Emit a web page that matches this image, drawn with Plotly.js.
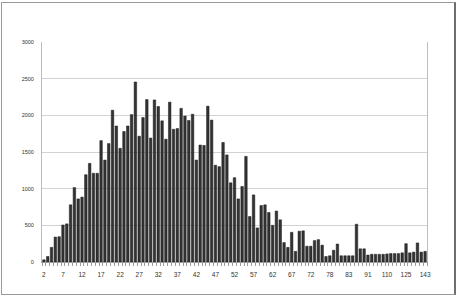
<!DOCTYPE html>
<html>
<head>
<meta charset="utf-8">
<script src="https://cdn.plot.ly/plotly-3.0.1.min.js"></script>
<style>
  html, body { margin: 0; padding: 0; background: #ffffff; }
  #wrap { position: relative; width: 458px; height: 296px; overflow: hidden; }
  #chart { position: absolute; left: 0; top: 0; width: 458px; height: 296px; }
  #frame { position: absolute; left: 1px; top: 2px; width: 452px; height: 291px;
           border-left: 1px solid #9a9a9a; border-top: 1px solid #9a9a9a;
           border-right: 2px solid #6e6e6e; border-bottom: 1px solid #9a9a9a;
           pointer-events: none; }
</style>
</head>
<body>
<div id="wrap">
  <div id="chart"></div>
  <div id="frame"></div>
</div>
<script>
const categories = [
  "2","3","4","5","6","7","8","9","10","11","12","13","14","15","16","17","18","19","20","21",
  "22","23","24","25","26","27","28","29","30","31","32","33","34","35","36","37","38","39","40","41",
  "42","43","44","45","46","47","48","49","50","51","52","53","54","55","56","57","58","59","60","61",
  "62","63","64","65","66","67","68","69","70","71","72","73","74","75","77","78","79","80","81","82",
  "83","84","85","86","88","91","93","96","100","105","110","112","115","118","121","125","128","131","135","139",
  "143"
];
const values = [
  30, 75, 200, 340, 345, 505, 520, 780, 1015, 860,
  885, 1190, 1345, 1210, 1210, 1655, 1390, 1615, 2070, 1855,
  1550, 1780, 1855, 2010, 2455, 1715, 1970, 2215, 1690, 2210,
  2120, 1925, 1675, 2180, 1810, 1820, 2095, 1990, 1930, 2015,
  1390, 1595, 1590, 2125, 1935, 1320, 1300, 1630, 1460, 1080,
  1150, 860, 1030, 1440, 620, 915, 465, 770, 780, 675,
  500, 695, 575, 265, 200, 405, 145, 420, 425, 215,
  215, 292, 305, 230, 75, 85, 160, 245, 85, 85,
  85, 85, 515, 180, 180, 95, 105, 105, 105, 105,
  110, 115, 115, 115, 125, 250, 125, 135, 260, 135,
  145
];
const tickLabels = ["2","7","12","17","22","27","32","37","42","47","52","57","62","67","72","78","83","91","110","125","143"];
const yTicks = [0, 500, 1000, 1500, 2000, 2500, 3000];

const tickText = categories.map(c => tickLabels.includes(c) ? c : "");

const trace = {
  type: "bar",
  x: categories,
  y: values,
  marker: { color: "#333333", line: { color: "#1a1a1a", width: 0.5 } },
  hoverinfo: "x+y"
};

const layout = {
  width: 458,
  height: 296,
  margin: { l: 42, r: 31, t: 42, b: 34, pad: 0 },
  paper_bgcolor: "#ffffff",
  plot_bgcolor: "#ffffff",
  showlegend: false,
  bargap: 0.34,
  font: { family: "Liberation Sans, Arial, sans-serif", color: "#333333" },
  xaxis: {
    type: "category",
    tickmode: "array",
    tickvals: categories,
    ticktext: tickText,
    tickson: "boundaries",
    ticks: "outside",
    ticklen: 3,
    tickcolor: "#9a9a9a",
    tickangle: 0,
    ticklabelstandoff: 6,
    tickfont: { size: 6.5, color: "#333333" },
    showgrid: false,
    showline: true,
    linecolor: "#9a9a9a",
    linewidth: 1,
    zeroline: false
  },
  yaxis: {
    range: [0, 3000],
    tickmode: "array",
    tickvals: yTicks,
    ticktext: yTicks.map(String),
    tickfont: { size: 5.5, color: "#333333" },
    ticks: "",
    ticklabelstandoff: 6,
    showgrid: true,
    gridcolor: "#d2d2d2",
    gridwidth: 1,
    showline: true,
    mirror: true,
    linecolor: "#bdbdbd",
    linewidth: 1,
    zeroline: false
  }
};

Plotly.newPlot("chart", [trace], layout, { staticPlot: true, displayModeBar: false });
</script>
</body>
</html>
